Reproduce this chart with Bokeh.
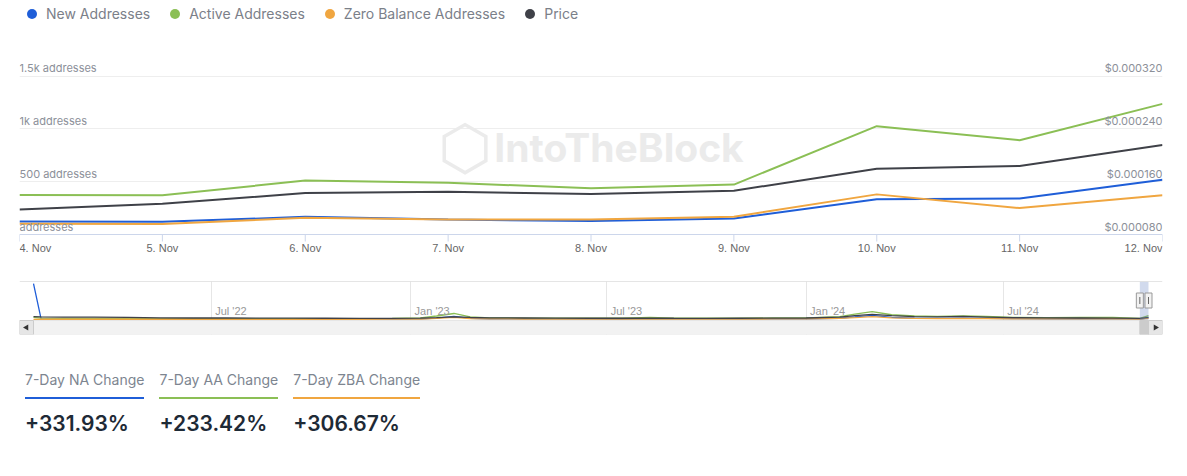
import numpy as np
import pandas as pd
from bokeh.plotting import figure
from bokeh.models import Range1d, FixedTicker, Label, Span, Div, Grid
from bokeh.layouts import column
from bokeh.embed import file_html
from bokeh.resources import INLINE

# ---------------- data ----------------
days = ["4. Nov", "5. Nov", "6. Nov", "7. Nov", "8. Nov", "9. Nov", "10. Nov", "11. Nov", "12. Nov"]
new_addr = [124, 120, 167, 142, 127, 152, 333, 342, 519]
active_addr = [374, 371, 511, 489, 439, 473, 1026, 893, 1237]
zero_addr = [102, 99, 158, 142, 143, 168, 380, 250, 371]
price = [0.0001180, 0.0001266, 0.0001428, 0.0001448, 0.0001413, 0.0001463, 0.0001797, 0.0001838, 0.0002157]

series_names = ["New Addresses", "Active Addresses", "Zero Balance Addresses", "Price"]
series_colors = ["#1f5ed8", "#8bbf55", "#f0a640", "#3f4148"]

left_ticks = [0, 500, 1000, 1500]
left_tick_labels = ["addresses", "500 addresses", "1k addresses", "1.5k addresses"]
right_ticks = [0.00008, 0.00016, 0.00024, 0.00032]
right_tick_labels = ["$0.000080", "$0.000160", "$0.000240", "$0.000320"]

stat_names = ["7-Day NA Change", "7-Day AA Change", "7-Day ZBA Change"]
stat_values = ["+331.93%", "+233.42%", "+306.67%"]
stat_colors = series_colors[:3]

nav_dates = ["2022-01-18", "2022-01-25", "2022-02-15", "2022-03-15", "2022-04-15", "2022-05-15",
             "2022-06-15", "2022-07-15", "2022-08-15", "2022-09-15", "2022-10-15", "2022-11-15",
             "2022-12-15", "2023-01-10", "2023-01-25", "2023-02-10", "2023-02-25", "2023-03-15",
             "2023-04-15", "2023-05-15", "2023-06-15", "2023-07-15", "2023-08-10", "2023-09-01",
             "2023-10-01", "2023-11-01", "2023-12-01", "2024-01-01", "2024-02-01", "2024-02-15",
             "2024-03-02", "2024-03-20", "2024-04-10", "2024-05-01", "2024-05-25", "2024-06-15",
             "2024-07-10", "2024-08-10", "2024-09-10", "2024-10-10", "2024-11-04", "2024-11-12"]
nav_new = [11300, 180, 120, 110, 100, 100, 95, 90, 90, 85, 90, 100, 120, 200, 450, 1000, 350, 220,
           200, 180, 170, 160, 260, 180, 170, 180, 200, 220, 400, 800, 1300, 700, 400, 380, 420, 350,
           250, 220, 230, 260, 124, 519]
nav_active = [700, 450, 380, 350, 320, 300, 290, 280, 270, 260, 270, 290, 330, 500, 1100, 1900, 800,
              500, 450, 420, 400, 420, 700, 450, 420, 430, 480, 520, 900, 1700, 2500, 1500, 1100, 1000,
              1150, 950, 700, 600, 650, 700, 374, 1237]
nav_zero = [60, 80, 90, 85, 80, 80, 75, 75, 70, 70, 75, 80, 100, 150, 350, 700, 300, 180, 160, 150,
            140, 140, 200, 150, 140, 150, 170, 190, 350, 600, 900, 500, 350, 300, 350, 300, 220, 200,
            210, 230, 102, 371]
nav_price = [0.00030, 0.00028, 0.00025, 0.00024, 0.00022, 0.00018, 0.00016, 0.00016, 0.00015, 0.00014,
             0.00013, 0.00012, 0.00012, 0.00014, 0.00020, 0.00028, 0.00022, 0.00018, 0.00016, 0.00015,
             0.00013, 0.00013, 0.00015, 0.00013, 0.00012, 0.00013, 0.00014, 0.00016, 0.00025, 0.00040,
             0.00055, 0.00040, 0.00030, 0.00028, 0.00032, 0.00026, 0.00020, 0.00017, 0.00016, 0.00015,
             0.000118, 0.000216]
nav_tick_dates = ["2022-07-01", "2023-01-01", "2023-07-01", "2024-01-01", "2024-07-01"]
nav_tick_labels = ["Jul '22", "Jan '23", "Jul '23", "Jan '24", "Jul '24"]
selection = ["2024-11-04", "2024-11-12"]

# ---------------- style / layout constants ----------------
FONT = "Inter"
AXFONT = "Liberation Sans"
FRAME_W = 1143
LEFT_B, RIGHT_B = 19, 20
TOTAL_W = LEFT_B + FRAME_W + RIGHT_B
PX_1500 = 158.4          # pixels between 0 and 1500 addresses
ABOVE_ZERO = 206         # frame pixels above the zero line
BELOW_ZERO = 36          # frame pixels below the zero line (axis ticks + labels)
GRID = "#eeeeee"
AXIS_C = "#ccd6eb"


def strip_grids(fig):
    fig.center = [c for c in fig.center if not isinstance(c, Grid)]


# ---------------- legend (html) ----------------
items = "".join(
    f'<span style="display:inline-flex;align-items:center;margin-right:20px">'
    f'<span style="display:inline-block;width:10px;height:10px;border-radius:50%;background:{c};margin-right:9px"></span>'
    f'{n}</span>'
    for n, c in zip(series_names, series_colors))
legend_div = Div(
    text=f'<div style="font-family:{FONT};font-size:14px;color:#7b8089;padding-left:27px;display:flex;'
         f'align-items:center;height:28px;white-space:nowrap">{items}</div>',
    width=TOTAL_W, height=28, margin=0)

# ---------------- main chart ----------------
n = len(days)
xs = list(range(n))
upp = 1500 / PX_1500                      # data units per pixel
y_start, y_end = -BELOW_ZERO * upp, ABOVE_ZERO * upp
p_lo = right_ticks[0]
p_per = (right_ticks[-1] - right_ticks[0]) / 1500
p = figure(frame_width=FRAME_W, frame_height=ABOVE_ZERO + BELOW_ZERO,
           x_range=Range1d(0, n - 1), y_range=Range1d(y_start, y_end),
           x_axis_location=None, y_axis_location=None,
           min_border_left=LEFT_B, min_border_right=RIGHT_B, min_border_top=0, min_border_bottom=0,
           output_backend="svg", toolbar_location=None)
p.extra_y_ranges = {"price": Range1d(p_lo + p_per * y_start, p_lo + p_per * y_end)}
p.outline_line_color = None
strip_grids(p)
p.add_layout(Grid(dimension=1, ticker=FixedTicker(ticks=left_ticks[1:]), grid_line_color=GRID))

# watermark
wm_y = 87 * upp
p.add_layout(Label(x=(n - 1) / 2, y=wm_y, text="IntoTheBlock", x_offset=28,
                   text_align="center", text_baseline="middle", text_font=FONT, text_font_style="bold",
                   text_font_size="39px", text_color="#ebebeb", level="underlay"))
p.add_layout(Label(x=(n - 1) / 2, y=wm_y, text="\u2b21", x_offset=-126,
                   text_align="center", text_baseline="middle", text_font="DejaVu Sans",
                   text_font_size="62px", text_color="#ebebeb", level="underlay"))

# x axis (line, ticks, labels) drawn inside the frame
p.add_layout(Span(location=0, dimension="width", line_color=AXIS_C, line_width=1))
p.segment(x0=xs, y0=[0] * n, x1=xs, y1=[-7 * upp] * n, line_color=AXIS_C, line_width=1)
for i in xs:
    al = "left" if i == xs[0] else ("right" if i == xs[-1] else "center")
    p.add_layout(Label(x=i, y=-7.5 * upp, text=days[i], text_align=al, text_baseline="top",
                       text_font=AXFONT, text_font_size="11px", text_color="#666666"))

for name, ys, col in zip(series_names[:3], [new_addr, active_addr, zero_addr], series_colors[:3]):
    p.line(xs, ys, line_color=col, line_width=2)
p.line(xs, price, line_color=series_colors[3], line_width=2, y_range_name="price")

for t, lab in zip(left_ticks, left_tick_labels):
    p.add_layout(Label(x=0, y=t, text=lab, text_align="left", text_baseline="bottom", y_offset=1,
                       text_font=FONT, text_font_size="11px", text_color="#8c9099"))
for t, lab in zip(right_ticks, right_tick_labels):
    p.add_layout(Label(x=n - 1, y=t, text=lab, y_range_name="price", text_align="right",
                       text_baseline="bottom", y_offset=1,
                       text_font=FONT, text_font_size="11px", text_color="#8c9099"))

# ---------------- navigator ----------------
def ms(s):
    return pd.Timestamp(s).value / 1e6

nav_x = [ms(d) for d in nav_dates]
n0, n1 = nav_x[0], nav_x[-1]
BTN = 14
pad = BTN * (n1 - n0) / (FRAME_W - 2 * BTN)
ymax = 12000.0
pmax = 0.004
NAV_DATA_PX = 38
NAV_FH = 53
below = NAV_FH - NAV_DATA_PX
nav = figure(frame_width=FRAME_W, frame_height=NAV_FH,
             x_range=Range1d(n0 - pad, n1 + pad), y_range=Range1d(-ymax * below / NAV_DATA_PX, ymax),
             x_axis_location=None, y_axis_location=None,
             min_border_left=LEFT_B, min_border_right=RIGHT_B, min_border_top=11, min_border_bottom=6,
             output_backend="svg", toolbar_location=None)
nav.extra_y_ranges = {"price": Range1d(-pmax * below / NAV_DATA_PX, pmax)}
nav.outline_line_color = None
strip_grids(nav)
nav.add_layout(Grid(dimension=0, ticker=FixedTicker(ticks=[ms(d) for d in nav_tick_dates]),
                    grid_line_color="#e6e6e6"))
nav.add_layout(Span(location=ymax, dimension="width", line_color="#cccccc", line_width=1))

for ys, col in zip([nav_new, nav_active, nav_zero], series_colors[:3]):
    nav.line(nav_x, ys, line_color=col, line_width=1.3)
nav.line(nav_x, nav_price, line_color=series_colors[3], line_width=1.3, y_range_name="price")

for d, lab in zip(nav_tick_dates, nav_tick_labels):
    nav.add_layout(Label(x=ms(d), y=0, text=lab, text_align="left", text_baseline="bottom",
                         x_offset=4, y_offset=3, text_font=AXFONT, text_font_size="11px",
                         text_color="#999999"))

px = ymax / NAV_DATA_PX
s0, s1 = ms(selection[0]), ms(selection[1])
nav.quad(left=[s0], right=[s1], bottom=[-px], top=[ymax], fill_color="#6685c2", fill_alpha=0.3,
         line_color=None)
# scrollbar
sb_top = -1 * px
sb_bot = -ymax * below / NAV_DATA_PX
nav.quad(left=[n0], right=[n1], bottom=[sb_bot], top=[sb_top], fill_color="#f2f2f2",
         line_color="#e6e6e6")
nav.quad(left=[n0 - pad, n1], right=[n0, n1 + pad], bottom=[sb_bot] * 2, top=[sb_top] * 2,
         fill_color="#e6e6e6", line_color="#cccccc")
nav.quad(left=[s0], right=[s1], bottom=[sb_bot], top=[sb_top], fill_color="#cccccc",
         line_color="#cccccc")
nav.scatter(x=[n0 - pad / 2, n1 + pad / 2], y=[(sb_top + sb_bot) / 2] * 2, marker="triangle",
            angle=[np.pi / 2, -np.pi / 2], size=6, fill_color="#333333", line_color=None)
# handles
nav.rect(x=[s0, s1], y=[ymax * 0.5] * 2, width=7, width_units="screen", height=15,
         height_units="screen", fill_color="#f2f2f2", line_color="#999999")
nav.scatter(x=[s0, s1], y=[ymax * 0.5] * 2, marker="dash", angle=np.pi / 2, size=7,
            line_color="#666666")

# ---------------- stats (html) ----------------
blocks = "".join(
    f'<div style="display:inline-block;vertical-align:top;margin-right:15px">'
    f'<div style="font-size:14px;color:#7d8590;line-height:18px;padding-bottom:8px;border-bottom:2px solid {c}">{nm}</div>'
    f'<div style="font-size:21px;font-weight:600;color:#1e2a36;line-height:26px;margin-top:12px">{v}</div>'
    f'</div>'
    for nm, v, c in zip(stat_names, stat_values, stat_colors))
stats_div = Div(text=f'<div style="font-family:{FONT};padding-left:25px;padding-top:31px;white-space:nowrap;display:flex">{blocks}</div>',
                width=TOTAL_W, height=128, margin=0)

layout = column(legend_div, p, nav, stats_div)
open("out.html", "w").write(file_html(layout, INLINE))
